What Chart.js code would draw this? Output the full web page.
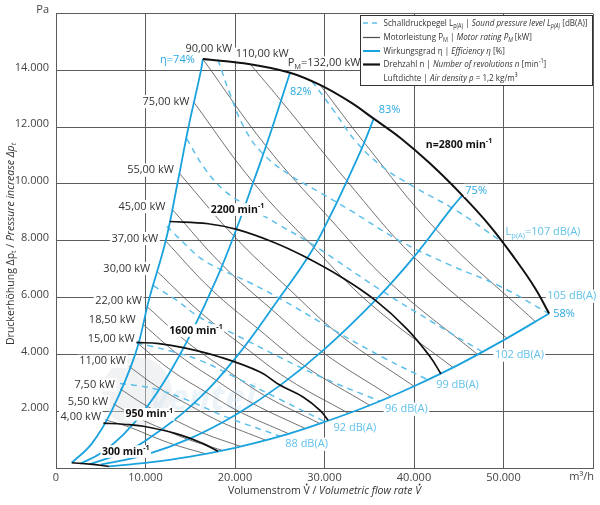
<!DOCTYPE html>
<html>
<head>
<meta charset="utf-8">
<script src="https://cdn.jsdelivr.net/npm/chart.js@4.4.1/dist/chart.umd.min.js"></script>
<style>
  html, body { margin: 0; padding: 0; background: #fff; }
</style>
</head>
<body>
<canvas id="chart" width="600" height="505"></canvas>
<script>
// speed curves n [min-1], points [V m3/h, dp Pa]
const n300 = [[1760, 185], [3800, 135], [5900, 60]];
const n950 = [[5300, 1580], [7500, 1540], [9750, 1470], [13500, 1200], [16500, 850], [18100, 590]];
const n1600 = [[9000, 4420], [11500, 4380], [14200, 4240], [18300, 3910], [22800, 3380], [25000, 2920], [27600, 2500], [29500, 2030], [30400, 1680]];
const n2200 = [[12700, 8680], [17000, 8600], [20200, 8400], [24300, 7950], [27600, 7470], [32000, 6700], [35700, 5900], [39200, 4900], [41800, 3920], [43000, 3320]];
const n2800 = [[16400, 14400], [21700, 14220], [26150, 13920], [29500, 13490], [32850, 12890], [35500, 12300], [38450, 11630], [41800, 10720], [45400, 9600], [48500, 8520], [51300, 7360], [53500, 6350], [55100, 5440]];

// efficiency lines
const eta74 = [[1760, 185], [4000, 860], [6200, 2000], [8850, 4000], [10450, 6000], [12260, 8000], [13560, 10000], [14800, 12000], [16200, 14000], [16400, 14400]];
const eta82 = [[2700, 150], [5000, 520], [7500, 1170], [10000, 2080], [12500, 3250], [15000, 4680], [18000, 6700], [20200, 8450], [22200, 10200], [23700, 11550], [26150, 13920]];
const eta83 = [[3800, 138], [7500, 540], [10000, 960], [15000, 2160], [20000, 3850], [25000, 6000], [28400, 7550], [30600, 8850], [32500, 10100], [34300, 11350], [35500, 12300]];
const eta75 = [[5000, 115], [10000, 465], [15000, 1045], [20000, 1860], [25000, 2900], [30000, 4185], [35800, 5950], [39900, 7400], [44200, 9150], [45400, 9600]];
const eta58 = [[5900, 60], [10000, 180], [15000, 400], [20000, 710], [25000, 1110], [30000, 1620], [35000, 2200], [40000, 2880], [45000, 3640], [50000, 4500], [55100, 5440]];

// motor rating lines P_M [kW]
const pm4 = [[5480, 1700], [8280, 1430], [10760, 1110], [13240, 820], [16710, 500]];
const pm5_5 = [[6400, 2260], [9210, 1760], [11960, 1370], [14730, 1010], [18580, 620]];
const pm7_5 = [[7150, 2790], [10210, 2170], [13270, 1690], [16330, 1240], [20610, 760]];
const pm11 = [[8150, 3580], [11600, 2800], [15070, 2180], [18560, 1600], [23410, 980]];
const pm15 = [[9000, 4420], [12860, 3440], [16710, 2680], [20580, 1970], [25960, 1210]];
const pm18_5 = [[9680, 5070], [13800, 3960], [17920, 3080], [22070, 2260], [27840, 1390]];
const pm22 = [[10280, 5650], [14620, 4440], [18990, 3460], [23380, 2540], [29500, 1560]];
const pm30 = [[11300, 6920], [16210, 5460], [21060, 4260], [25920, 3130], [32710, 1920]];
const pm37 = [[12200, 8010], [17380, 6280], [22580, 4900], [27800, 3590], [35080, 2200]];
const pm45 = [[13000, 9100], [18550, 7160], [24110, 5580], [29680, 4100], [37450, 2510]];
const pm55 = [[13850, 10350], [19840, 8180], [25770, 6380], [31730, 4680], [40030, 2870]];
const pm75 = [[15350, 12900], [22000, 10070], [28580, 7840], [35180, 5760], [44390, 3530]];
const pm90 = [[16400, 14400], [23380, 11370], [30370, 8860], [37390, 6500], [47180, 3980]];
const pm110 = [[21700, 14220], [24990, 12990], [32470, 10120], [39980, 7430], [50440, 4550]];
const pm132 = [[29500, 13490], [34510, 11430], [42480, 8390], [53600, 5140]];

// sound pressure level lines L_p(A) [dB(A)]
const lp88 = [[7150, 2975], [9500, 2880], [11600, 2740], [15000, 2350], [19000, 1800], [25050, 1120]];
const lp92 = [[9000, 4400], [10300, 4310], [13000, 4100], [16100, 3790], [20000, 3200], [25000, 2420], [30110, 1620]];
const lp96 = [[10870, 6420], [13500, 5900], [16100, 5300], [20000, 4700], [25000, 3900], [30000, 3150], [36210, 2350]];
const lp99 = [[12370, 8515], [14200, 7950], [16100, 7400], [18000, 7050], [21500, 6550], [25000, 5970], [31800, 4720], [36500, 3900], [41580, 3100]];
const lp102 = [[14600, 11600], [16500, 10600], [18700, 9800], [21500, 9200], [25000, 8550], [28600, 7880], [36500, 6220], [42000, 5150], [47700, 4080]];
const lp105 = [[18100, 14380], [19400, 13200], [21000, 12000], [23000, 11100], [26200, 10300], [29500, 9700], [33000, 9050], [38400, 8000], [44000, 7150], [49600, 6400], [55000, 5450]];
const lp107 = [[28600, 13620], [31000, 12600], [33500, 11500], [36500, 10600], [40000, 9900], [44800, 9050], [49900, 7950]];

const speedLines = [n300, n950, n1600, n2200, n2800];
const speedNames = ['300', '950', '1600', '2200', 'n=2800'];
const speedLabelAt = [[7800, 580], [10420, 1890], [15640, 4840], [20280, 9100], [45030, 11380]];

const etaLines = [eta74, eta82, eta83, eta75, eta58];
const etaNames = ['η=74%', '82%', '83%', '75%', '58%'];

const pmLines = [pm4, pm5_5, pm7_5, pm11, pm15, pm18_5, pm22, pm30, pm37, pm45, pm55, pm75, pm90, pm110, pm132];
const pmNames = ['4,00', '5,50', '7,50', '11,00', '15,00', '18,50', '22,00', '30,00', '37,00', '45,00', '55,00', '75,00', '90,00', '110,00', '132,00'];

const lpLines = [lp88, lp92, lp96, lp99, lp102, lp105, lp107];
const lpNames = ['88', '92', '96', '99', '102', '105', '107'];

const FONT = '"Open Sans", sans-serif';
const BLUE = '#19a2de';
const DASH = '#5dbfea';
const GREY = '#4d4d4d';
const BLACK = '#111111';
const GRID = '#5c5c5c';

const fmt = v => String(v).replace(/\B(?=(\d{3})+(?!\d))/g, '.');

function lineSet(pts, color, width, dash, order) {
    return {
        data: pts.map(p => ({ x: p[0], y: p[1] })),
        borderColor: color,
        borderWidth: width,
        borderDash: dash,
        pointRadius: 0,
        showLine: true,
        fill: false,
        tension: 0.4,
        order: order
    };
}

const datasets = [];
speedLines.forEach((d, i) => datasets.push(lineSet(d, BLACK, i === 4 ? 2 : 1.7, [], 1)));
etaLines.forEach(d => datasets.push(lineSet(d, BLUE, 1.8, [], 2)));
lpLines.forEach(d => datasets.push(lineSet(d, DASH, 1.5, [6, 5], 3)));
pmLines.forEach(d => datasets.push(lineSet(d, GREY, 0.8, [], 4)));

// rich text: segments [text, flags]  i=italic b=bold s=sub u=super d=dot above
function segFont(size, seg) {
    const f = seg[1] || '';
    const it = f.includes('i') ? 'italic ' : '';
    const bd = f.includes('b') ? 'bold ' : '';
    const s = (f.includes('s') || f.includes('u')) ? size * 0.68 : size;
    return it + bd + s + 'px ' + FONT;
}

function richWidth(ctx, segs, size) {
    let w = 0;
    segs.forEach(s => { ctx.font = segFont(size, s); w += ctx.measureText(s[0]).width; });
    return w;
}

function drawRich(ctx, segs, x, y, o) {
    const size = o.size || 11;
    const w = richWidth(ctx, segs, size);
    let x0 = o.align === 'right' ? x - w : o.align === 'center' ? x - w / 2 : x;
    if (o.bg) {
        ctx.fillStyle = o.bg;
        ctx.fillRect(x0 - 1.5, y - size * 0.6, w + 3, size * 1.2);
    }
    ctx.fillStyle = o.color;
    ctx.textBaseline = 'middle';
    ctx.textAlign = 'left';
    segs.forEach(s => {
        ctx.font = segFont(size, s);
        const f = s[1] || '';
        const dy = f.includes('s') ? size * 0.32 : f.includes('u') ? -size * 0.32 : 0;
        const tw = ctx.measureText(s[0]).width;
        ctx.fillText(s[0], x0, y + dy);
        if (f.includes('d')) {
            ctx.beginPath();
            ctx.arc(x0 + tw / 2 + (f.includes('i') ? 1.5 : 0), y - size * 0.62, size * 0.085, 0, Math.PI * 2);
            ctx.fill();
        }
        x0 += tw;
    });
}

const pmOffset = [[-4, -3], [-5, -2], [-5, -4], [-3, -5], [-2, -4], [-7, -4], [-6, -7], [-7, -3], [-7, -2], [-7, -3], [-6, -4], [-4, 0]];
const etaOffset = [[-8, 1, 'right'], [0, 19, 'left'], [5, -9, 'left'], [3, -5, 'left'], [4, 0, 'left']];
const lpOffset = [[5, 8], [8, 6], [5, 8], [8, 5], [12, 3], [-1, -17], [3, -10]];

const watermarkPlugin = {
    id: 'watermark',
    beforeDatasetsDraw(chart) {
        const ctx = chart.ctx;
        const xs = chart.scales.x, ys = chart.scales.y;
        ctx.save();
        ctx.globalAlpha = 0.45;
        ctx.fillStyle = '#dfe2e5';
        ctx.beginPath();
        ctx.arc(xs.getPixelForValue(9060), ys.getPixelForValue(2670), 35, 0, Math.PI * 2);
        ctx.fill();
        ctx.fillStyle = '#d6e7f2';
        ctx.font = 'italic bold 36px ' + FONT;
        ctx.textBaseline = 'middle';
        ctx.fillText('ventel', xs.getPixelForValue(10500), ys.getPixelForValue(2400));
        ctx.restore();
    }
};

const labelPlugin = {
    id: 'labels',
    afterDatasetsDraw(chart) {
        const ctx = chart.ctx;
        const xs = chart.scales.x, ys = chart.scales.y;
        const px = p => [xs.getPixelForValue(p[0]), ys.getPixelForValue(p[1])];
        const area = chart.chartArea;
        ctx.save();

        // motor rating labels
        pmLines.forEach((d, i) => {
            const [x, y] = px(d[0]);
            if (i < 12) {
                drawRich(ctx, [[pmNames[i] + ' kW']], x + pmOffset[i][0], y + pmOffset[i][1], { align: 'right', color: '#333', size: 11, bg: '#fff' });
            }
        });
        let [x, y] = px(pm90[0]);
        drawRich(ctx, [['90,00 kW']], x + 6, y - 10, { align: 'center', color: '#333', size: 11, bg: '#fff' });
        [x, y] = px(pm110[0]);
        drawRich(ctx, [['110,00 kW']], x + 12, y - 10, { align: 'center', color: '#333', size: 11, bg: '#fff' });
        [x, y] = px(pm132[0]);
        drawRich(ctx, [['P'], ['M', 's'], ['=132,00 kW']], x + 4, y - 22, { align: 'center', color: '#333', size: 11, bg: '#fff' });

        // efficiency labels
        etaLines.forEach((d, i) => {
            const [x, y] = px(d[d.length - 1]);
            const o = etaOffset[i];
            drawRich(ctx, [[etaNames[i]]], x + o[0], y + o[1], { align: o[2], color: '#2aa9e1', size: 11, bg: '#fff' });
        });

        // sound labels
        lpLines.forEach((d, i) => {
            const [x, y] = px(d[d.length - 1]);
            const o = lpOffset[i];
            const segs = i === 6 ? [['L'], ['p(A)', 's'], ['=107 dB(A)']] : [[lpNames[i] + ' dB(A)']];
            drawRich(ctx, segs, x + o[0], y + o[1], { align: 'left', color: '#62c2ec', size: 11, bg: '#fff' });
        });

        // speed labels
        speedNames.forEach((n, i) => {
            const [x, y] = px(speedLabelAt[i]);
            drawRich(ctx, [[n + ' min', 'b'], ['-1', 'bu']], x, y, { align: 'center', color: '#111', size: 10.5, bg: '#fff' });
        });

        // axis titles and units
        drawRich(ctx, [['Volumenstrom '], ['V', 'd'], [' / '], ['Volumetric flow rate ', 'i'], ['V', 'id']], (area.left + area.right) / 2, 491, { align: 'center', color: '#333', size: 10.5 });
        ctx.save();
        ctx.translate(11, 244);
        ctx.rotate(-Math.PI / 2);
        drawRich(ctx, [['Druckerhöhung Δp'], ['t', 's'], [' / '], ['Pressure increase Δp', 'i'], ['t', 'is']], 0, 0, { align: 'center', color: '#333', size: 10.5 });
        ctx.restore();
        drawRich(ctx, [['Pa']], area.left - 7, area.top - 4, { align: 'right', color: '#444', size: 11 });
        drawRich(ctx, [['m³/h']], area.right + 1, area.bottom + 9, { align: 'right', color: '#444', size: 11 });

        // legend box
        const lx = 360.5, ly = 15.5, lw = 232, lh = 70;
        ctx.fillStyle = '#fff';
        ctx.fillRect(lx, ly, lw, lh);
        ctx.strokeStyle = '#333';
        ctx.lineWidth = 1;
        ctx.strokeRect(lx, ly, lw, lh);
        const rows = [
            [['Schalldruckpegel L'], ['p(A)', 's'], [' | '], ['Sound pressure level L', 'i'], ['p(A)', 'is'], [' [dB(A)]']],
            [['Motorleistung P'], ['M', 's'], [' | '], ['Motor rating P', 'i'], ['M', 'is'], [' [kW]']],
            [['Wirkungsgrad η | '], ['Efficiency η', 'i'], [' [%]']],
            [['Drehzahl n | '], ['Number of revolutions n', 'i'], [' [min'], ['-1', 'u'], [']']],
            [['Luftdichte | '], ['Air density ρ', 'i'], [' = 1,2 kg/m³']]
        ];
        const samples = [[DASH, 1.6, [5, 4]], [GREY, 1.2, []], [BLUE, 2, []], [BLACK, 2.2, []]];
        const rowY = [23, 37.5, 51, 64.5, 78.5];
        const tx = 383.5;
        const ls = 9.5;
        const squeeze = 204 / richWidth(ctx, rows[0], ls);
        rows.forEach((r, i) => {
            if (samples[i]) {
                ctx.beginPath();
                ctx.strokeStyle = samples[i][0];
                ctx.lineWidth = samples[i][1];
                ctx.setLineDash(samples[i][2]);
                ctx.moveTo(363, rowY[i]);
                ctx.lineTo(380, rowY[i]);
                ctx.stroke();
                ctx.setLineDash([]);
            }
            ctx.save();
            ctx.scale(squeeze, 1);
            drawRich(ctx, r, tx / squeeze, rowY[i], { align: 'left', color: '#333', size: ls });
            ctx.restore();
        });
        ctx.restore();
    }
};

new Chart(document.getElementById('chart'), {
    type: 'scatter',
    data: { datasets: datasets },
    options: {
        responsive: false,
        animation: false,
        layout: { padding: { left: 0, right: 7, top: 11, bottom: 0 } },
        plugins: { legend: { display: false }, tooltip: { enabled: false } },
        scales: {
            x: {
                type: 'linear', min: 0, max: 60000,
                afterFit: s => { s.height = 37; },
                ticks: {
                    stepSize: 10000, autoSkip: false, maxRotation: 0, padding: 3,
                    color: '#444', font: { family: FONT, size: 11 },
                    callback: v => v === 60000 ? '' : fmt(v)
                },
                grid: { color: GRID, lineWidth: 1, drawTicks: false },
                border: { color: GRID }
            },
            y: {
                type: 'linear', min: 0, max: 16000,
                afterFit: s => { s.width = 56; },
                ticks: {
                    stepSize: 2000, autoSkip: false, padding: 7, labelOffset: -3,
                    color: '#444', font: { family: FONT, size: 11 },
                    callback: v => (v === 0 || v === 16000) ? '' : fmt(v)
                },
                grid: { color: GRID, lineWidth: 1, drawTicks: false },
                border: { color: GRID }
            }
        }
    },
    plugins: [watermarkPlugin, labelPlugin]
});
</script>
</body>
</html>
